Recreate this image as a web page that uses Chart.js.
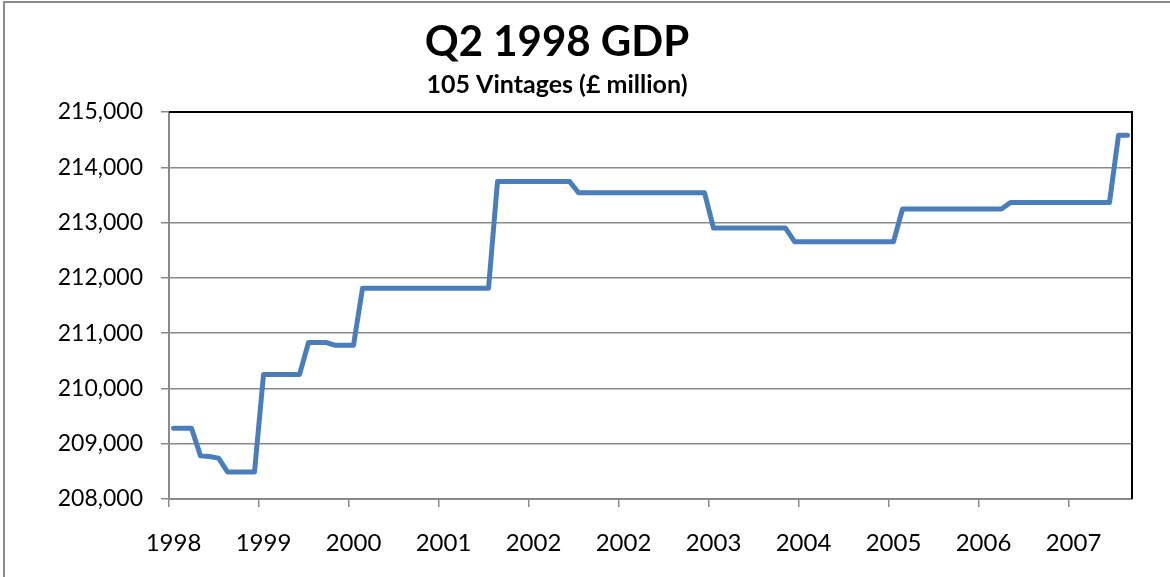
<!DOCTYPE html>
<html>
<head>
<meta charset="utf-8">
<title>Q2 1998 GDP</title>
<script src="https://cdn.jsdelivr.net/npm/chart.js@4/dist/chart.umd.min.js"></script>
<style>
  body { margin: 0; background: #fff; }
  #wrap { position: relative; width: 1170px; height: 577px; overflow: hidden; }
  #frame { position: absolute; left: 3px; top: 1px; width: 1400px; height: 800px;
           border-left: 2px solid #8c8c8c; border-top: 2px solid #8c8c8c; }
  #gdpChart { position: absolute; left: 0; top: 0; }
</style>
</head>
<body>
<div id="wrap">
  <div id="frame"></div>
  <canvas id="gdpChart" width="1170" height="577"></canvas>
</div>
<script>
// one value per published vintage, £ million
const vintageValues = [
  209280, 209280, 209280, 208780, 208770, 208740, 208490, 208490, 208490, 208490,
  210250, 210250, 210250, 210250, 210250, 210830, 210830, 210830, 210780, 210780,
  210780, 211810, 211810, 211810, 211810, 211810, 211810, 211810, 211810, 211810,
  211810, 211810, 211810, 211810, 211810, 211810, 213745, 213745, 213745, 213745,
  213745, 213745, 213745, 213745, 213745, 213540, 213540, 213540, 213540, 213540,
  213540, 213540, 213540, 213540, 213540, 213540, 213540, 213540, 213540, 213540,
  212900, 212900, 212900, 212900, 212900, 212900, 212900, 212900, 212900, 212655,
  212655, 212655, 212655, 212655, 212655, 212655, 212655, 212655, 212655, 212655,
  212655, 213245, 213245, 213245, 213245, 213245, 213245, 213245, 213245, 213245,
  213245, 213245, 213245, 213365, 213365, 213365, 213365, 213365, 213365, 213365,
  213365, 213365, 213365, 213365, 213365, 214580, 214580
];
// year shown under every 10th vintage
const tickLabels = ['1998', '1999', '2000', '2001', '2002', '2002', '2003', '2004', '2005', '2006', '2007'];
const labelEvery = 10;
const slotCount = 107; // category slots on the axis

const yMin = 208000;
const yMax = 215000;
const yStep = 1000;

const gridGrey = '#8a8a8a';
const lineBlue = '#4a7ebb';
const fontFamily = 'Lato, "Open Sans", sans-serif';

// each vintage sits in the middle of its slot, like a spreadsheet category axis
const points = vintageValues.map((v, i) => ({ x: i + 0.5, y: v }));

// black plot-area border on the top and right
const plotBorder = {
  id: 'plotBorder',
  afterDraw(chart) {
    const a = chart.chartArea;
    const ctx = chart.ctx;
    ctx.save();
    ctx.strokeStyle = '#000';
    ctx.lineWidth = 2;
    ctx.beginPath();
    ctx.moveTo(a.left, a.top);
    ctx.lineTo(a.right, a.top);
    ctx.lineTo(a.right, a.bottom);
    ctx.stroke();
    ctx.restore();
  }
};

window.onload = function () {
  let ctx = document.getElementById('gdpChart').getContext('2d');
  window.gdpChart = new Chart(ctx, {
    type: 'line',
    data: {
      datasets: [{
        data: points,
        borderColor: lineBlue,
        borderWidth: 5,
        pointRadius: 0,
        tension: 0,
        borderJoinStyle: 'round',
        borderCapStyle: 'round',
        fill: false
      }]
    },
    options: {
      responsive: false,
      animation: false,
      layout: { padding: { left: -18, right: 38, top: 0, bottom: 23 } },
      plugins: {
        legend: { display: false },
        tooltip: { enabled: false },
        title: {
          display: true,
          text: 'Q2 1998 GDP',
          color: '#000',
          font: { family: fontFamily, size: 42, weight: 'bold', lineHeight: 1.0 },
          padding: { top: 21, bottom: 9 }
        },
        subtitle: {
          display: true,
          text: '105 Vintages (£ million)',
          color: '#000',
          font: { family: fontFamily, size: 25, weight: 'bold', lineHeight: 1.0 },
          padding: { top: 0, bottom: 15 }
        }
      },
      scales: {
        x: {
          type: 'linear',
          min: 0,
          max: slotCount,
          afterFit: function (scale) { scale.height = 55; },
          border: { display: true, color: gridGrey, width: 2 },
          grid: {
            drawOnChartArea: false,
            drawTicks: true,
            tickLength: 8,
            lineWidth: 1.5,
            color: gridGrey
          },
          ticks: {
            stepSize: labelEvery,
            includeBounds: false,
            autoSkip: false,
            maxRotation: 0,
            minRotation: 0,
            padding: 22,
            labelOffset: 4.5,
            color: '#000',
            font: { family: fontFamily, size: 24 },
            callback: function (value) {
              return tickLabels[value / labelEvery];
            }
          }
        },
        y: {
          min: yMin,
          max: yMax,
          afterFit: function (scale) { scale.width = 187; },
          border: { display: true, color: gridGrey, width: 2 },
          grid: {
            color: gridGrey,
            lineWidth: 1.5,
            drawTicks: true,
            tickLength: 8
          },
          ticks: {
            stepSize: yStep,
            padding: 18,
            color: '#000',
            font: { family: fontFamily, size: 23 },
            callback: (v) => v.toLocaleString('en-US')
          }
        }
      }
    },
    plugins: [plotBorder]
  });
};
</script>
</body>
</html>
